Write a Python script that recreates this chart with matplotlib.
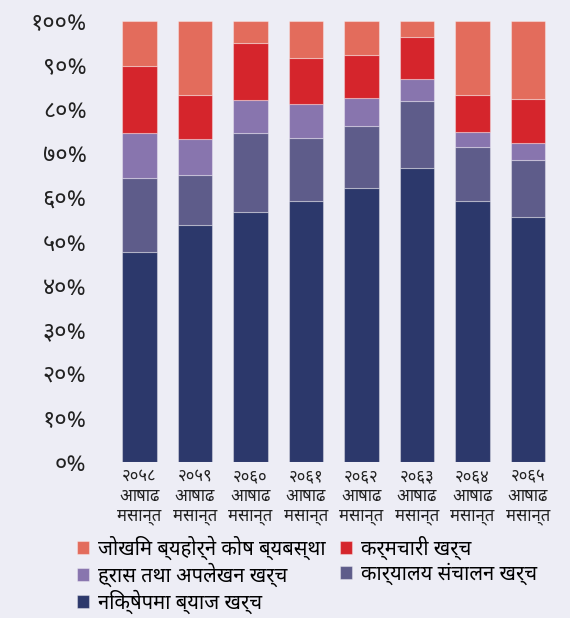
import numpy as np
import matplotlib
matplotlib.use("Agg")
import matplotlib.pyplot as plt

plt.rcParams['font.family'] = ['Noto Sans Devanagari', 'DejaVu Sans']

years = ['२०५८', '२०५९', '२०६०', '२०६१', '२०६२', '२०६३', '२०६४', '२०६५']
period = ['आषाढ\nमसान्त'] * 8

# percent shares, bottom to top
interest = [47.7, 53.8, 56.8, 59.1, 62.2, 66.7, 59.1, 55.6]
office = [16.6, 11.3, 17.7, 14.3, 14.1, 15.1, 12.3, 12.8]
depreciation = [10.3, 8.1, 7.7, 7.7, 6.2, 5.0, 3.4, 4.0]
staff = [15.3, 10.0, 12.9, 10.4, 9.7, 9.6, 8.4, 10.0]
risk = [10.1, 16.8, 4.9, 8.5, 7.8, 3.6, 16.8, 17.6]

names = ['निक्षेपमा ब्याज खर्च', 'कार्यालय संचालन खर्च', 'ह्रास तथा अपलेखन खर्च',
         'कर्मचारी खर्च', 'जोखिम ब्यहोर्ने कोष ब्यबस्था']
colors = ['#2C386B', '#5E5C8A', '#8875AE', '#D5252C', '#E36C5C']
yticks = ['०%', '१०%', '२०%', '३०%', '४०%', '५०%', '६०%', '७०%', '८०%', '९०%', '१००%']

bg = '#EDEDF5'
fig = plt.figure(figsize=(5.7, 6.18), dpi=100, facecolor=bg)
ax = fig.add_axes([0.196, 0.2524, 0.779, 0.7136], facecolor=bg)

x = np.arange(len(years))
bottom = np.zeros(len(years))
bars = []
for vals, c, n in zip([interest, office, depreciation, staff, risk], colors, names):
    b = ax.bar(x, vals, 0.62, bottom=bottom, color=c, label=n,
               edgecolor=(1, 1, 1, 0.35), linewidth=0.8)
    bars.append(b)
    bottom += np.array(vals)

ax.set_xlim(-0.5, 7.5)
ax.set_ylim(0, 100)
ax.set_yticks(np.arange(0, 101, 10))
ax.set_yticklabels(yticks, fontsize=17, color='#222222')
ax.set_xticks(x)
ax.set_xticklabels([y + '\n' + p for y, p in zip(years, period)], fontsize=12,
                   color='#222222', linespacing=1.3)
ax.tick_params(length=0)
ax.tick_params(axis='y', pad=18)
ax.tick_params(axis='x', pad=5)
for s in ax.spines.values():
    s.set_visible(False)

# legend: orange, purple, navy in first column, red, slate in second
order = [4, 2, 0, 3, 1]
leg = fig.legend([bars[i] for i in order], [names[i] for i in order], ncol=2,
                 loc='upper left', bbox_to_anchor=(0.135, 0.133), frameon=False,
                 fontsize=14.5, handlelength=0.6, handleheight=0.6,
                 handletextpad=0.45, columnspacing=0.7, labelspacing=0.12,
                 borderpad=0, borderaxespad=0)

fig.savefig('out.png', dpi=100, facecolor=bg)
